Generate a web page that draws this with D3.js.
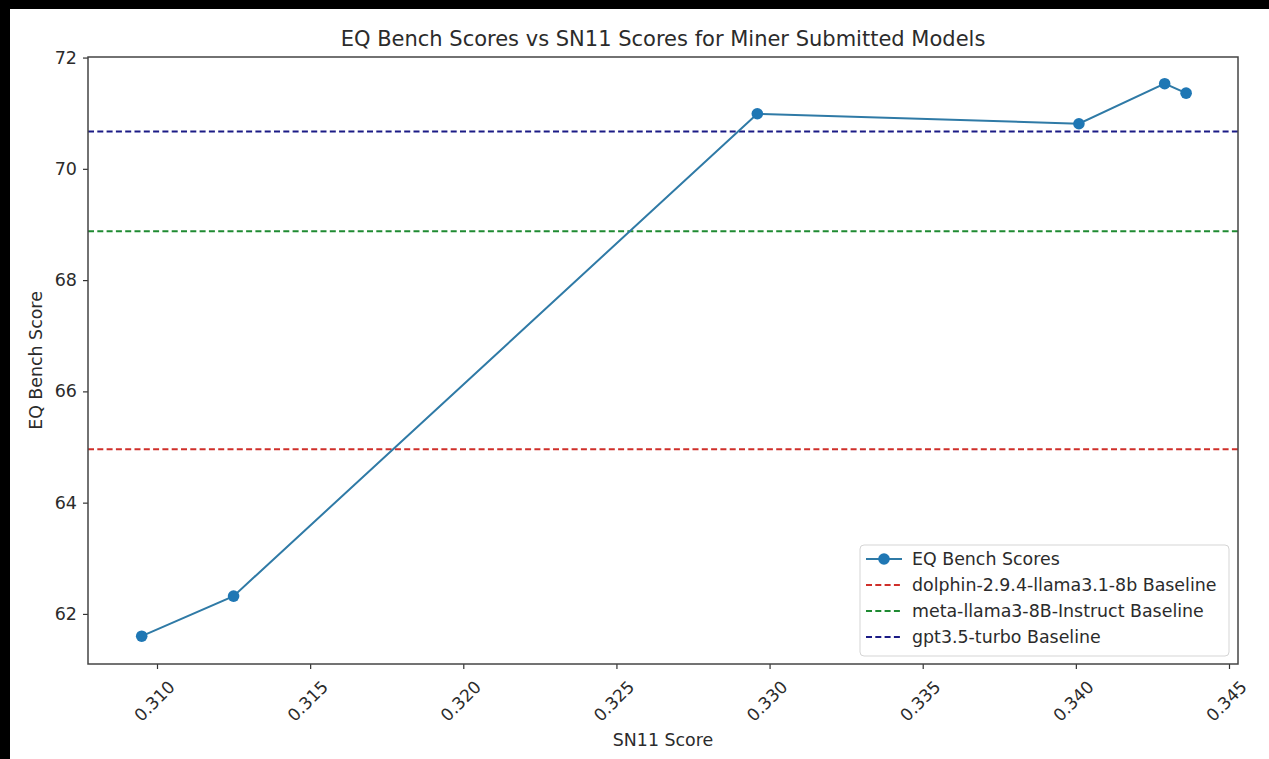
<!DOCTYPE html>
<html>
<head>
<meta charset="utf-8">
<script src="https://cdn.jsdelivr.net/npm/d3@7"></script>
<style>
  body { margin: 0; background: #000; }
  text { font-family: "DejaVu Sans", sans-serif; fill: #2b2b2b; }
</style>
</head>
<body>
<div id="chart"></div>
<script>
// Data
var sn11Scores = [0.3095, 0.3125, 0.3296, 0.3401, 0.3429, 0.3436];
var eqScores = [61.60, 62.32, 70.99, 70.81, 71.53, 71.36];

var baselineNames = ["dolphin-2.9.4-llama3.1-8b Baseline", "meta-llama3-8B-Instruct Baseline", "gpt3.5-turbo Baseline"];
var baselineValues = [64.96, 68.88, 70.67];
var baselineColors = ["#cf2f2a", "#1f8a32", "#1b1b85"];

var xTicks = [0.310, 0.315, 0.320, 0.325, 0.330, 0.335, 0.340, 0.345];
var yTicks = [62, 64, 66, 68, 70, 72];

// SVG area
var svgWidth = 1269;
var svgHeight = 759;

var margin = {
  top: 57,
  right: 31,
  bottom: 95,
  left: 88
};

var width = svgWidth - margin.left - margin.right;
var height = svgHeight - margin.top - margin.bottom;

var svg = d3.select("#chart")
  .append("svg")
  .attr("width", svgWidth)
  .attr("height", svgHeight)
  .style("display", "block");

// black frame with white page
svg.append("rect")
  .attr("width", svgWidth)
  .attr("height", svgHeight)
  .attr("fill", "#000");
svg.append("rect")
  .attr("x", 10)
  .attr("y", 9)
  .attr("width", svgWidth - 10)
  .attr("height", svgHeight - 9)
  .attr("fill", "#fff");

var chartGroup = svg.append("g")
  .attr("transform", `translate(${margin.left}, ${margin.top})`);

// Scales
var xLinearScale = d3.scaleLinear().domain([0.307747, 0.345294]).range([0, width]);
var yLinearScale = d3.scaleLinear().domain([61.1, 72.01]).range([height, 0]);

// Axes
var bottomAxis = d3.axisBottom(xLinearScale).tickValues(xTicks).tickSize(5).tickFormat(d3.format(".3f"));
var leftAxis = d3.axisLeft(yLinearScale).tickValues(yTicks).tickSize(5).tickFormat(d3.format("d"));

var xAxisG = chartGroup.append("g")
  .attr("transform", `translate(0, ${height})`)
  .call(bottomAxis);

xAxisG.selectAll("text")
  .style("font-size", "17px")
  .attr("text-anchor", "middle")
  .attr("dy", null)
  .attr("y", null)
  .attr("dominant-baseline", "central")
  .attr("transform", "translate(-3, 37) rotate(-45)");

var yAxisG = chartGroup.append("g")
  .call(leftAxis);

yAxisG.selectAll("text")
  .style("font-size", "17.5px")
  .attr("x", -11);

chartGroup.selectAll(".domain").remove();
chartGroup.selectAll(".tick line").attr("stroke", "#333").attr("stroke-width", 1.2);

// Baselines
chartGroup.selectAll(".baseline")
  .data(baselineValues)
  .enter()
  .append("line")
  .attr("class", "baseline")
  .attr("x1", 0)
  .attr("x2", width)
  .attr("y1", d => yLinearScale(d))
  .attr("y2", d => yLinearScale(d))
  .attr("stroke", (d, i) => baselineColors[i])
  .attr("stroke-width", 2)
  .attr("stroke-dasharray", "6,3.3");

// Score line
var points = sn11Scores.map((x, i) => [x, eqScores[i]]);

var line = d3.line()
  .x(d => xLinearScale(d[0]))
  .y(d => yLinearScale(d[1]));

chartGroup.append("path")
  .datum(points)
  .attr("d", line)
  .attr("fill", "none")
  .attr("stroke", "#2f7aa6")
  .attr("stroke-width", 2);

chartGroup.selectAll(".dot")
  .data(points)
  .enter()
  .append("circle")
  .attr("class", "dot")
  .attr("cx", d => xLinearScale(d[0]))
  .attr("cy", d => yLinearScale(d[1]))
  .attr("r", 5.8)
  .attr("fill", "#1f77b4");

// Frame (spines)
chartGroup.append("rect")
  .attr("width", width)
  .attr("height", height)
  .attr("fill", "none")
  .attr("stroke", "#444")
  .attr("stroke-width", 1.5);

// Title and axis labels
svg.append("text")
  .attr("x", margin.left + width / 2)
  .attr("y", 46)
  .attr("text-anchor", "middle")
  .style("font-size", "21px")
  .text("EQ Bench Scores vs SN11 Scores for Miner Submitted Models");

svg.append("text")
  .attr("transform", `translate(42, ${margin.top + height / 2}) rotate(-90)`)
  .attr("text-anchor", "middle")
  .style("font-size", "17.4px")
  .text("EQ Bench Score");

svg.append("text")
  .attr("x", margin.left + width / 2)
  .attr("y", 746)
  .attr("text-anchor", "middle")
  .style("font-size", "17.4px")
  .text("SN11 Score");

// Legend
var legendLabels = ["EQ Bench Scores"].concat(baselineNames);
var legendColors = ["#2f7aa6"].concat(baselineColors);

var legend = svg.append("g")
  .attr("transform", "translate(860, 545)");

legend.append("rect")
  .attr("width", 369)
  .attr("height", 111)
  .attr("rx", 4)
  .attr("fill", "#fff")
  .attr("fill-opacity", 0.8)
  .attr("stroke", "#d5d5d5");

var legendItems = legend.selectAll(".item")
  .data(legendLabels)
  .enter()
  .append("g")
  .attr("class", "item")
  .attr("transform", (d, i) => `translate(0, ${14 + i * 26})`);

legendItems.append("line")
  .attr("x1", 6)
  .attr("x2", 42)
  .attr("stroke", (d, i) => legendColors[i])
  .attr("stroke-width", 2)
  .attr("stroke-dasharray", (d, i) => i === 0 ? null : "6,3.3");

legend.append("circle")
  .attr("cx", 24)
  .attr("cy", 14)
  .attr("r", 5.8)
  .attr("fill", "#1f77b4");

legendItems.append("text")
  .attr("x", 52)
  .attr("dominant-baseline", "central")
  .style("font-size", "17.4px")
  .text(d => d);
</script>
</body>
</html>
